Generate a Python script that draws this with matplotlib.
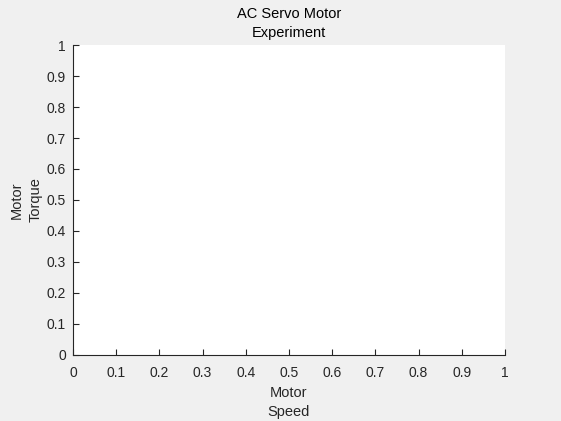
import matplotlib.pyplot as plt

# tick values for the empty axes
xticks = [0, 0.1, 0.2, 0.3, 0.4, 0.5, 0.6, 0.7, 0.8, 0.9, 1]
yticks = [0, 0.1, 0.2, 0.3, 0.4, 0.5, 0.6, 0.7, 0.8, 0.9, 1]
xtick_labels = ["0", "0.1", "0.2", "0.3", "0.4", "0.5", "0.6", "0.7", "0.8", "0.9", "1"]
ytick_labels = ["0", "0.1", "0.2", "0.3", "0.4", "0.5", "0.6", "0.7", "0.8", "0.9", "1"]

plt.rcParams["font.family"] = ["Liberation Sans", "DejaVu Sans"]
plt.rcParams["font.size"] = 10

fig = plt.figure(figsize=(5.61, 4.21), dpi=100, facecolor="#f0f0f0")
ax = fig.add_axes([0.130, 0.157, 0.770, 0.736])
ax.set_facecolor("white")

ax.set_xlim(0, 1)
ax.set_ylim(0, 1)
ax.set_xticks(xticks)
ax.set_xticklabels(xtick_labels)
ax.set_yticks(yticks)
ax.set_yticklabels(ytick_labels)

for side in ["top", "right"]:
    ax.spines[side].set_visible(False)
for side in ["left", "bottom"]:
    ax.spines[side].set_color("#262626")
    ax.spines[side].set_linewidth(0.8)

ax.tick_params(direction="in", length=4, width=0.8, colors="#262626",
               labelcolor="#262626", labelsize=10)
ax.tick_params(axis="x", pad=8)
ax.tick_params(axis="y", pad=5)

ax.set_title("AC Servo Motor\nExperiment", fontsize=10.5, color="black",
             linespacing=1.45, pad=6)
ax.set_xlabel("Motor\nSpeed", fontsize=10.5, color="#262626", linespacing=1.45,
              labelpad=4)
ax.set_ylabel("Motor\nTorque", fontsize=10.5, color="#262626", linespacing=1.45,
              labelpad=3)

fig.savefig("out.png", dpi=100, facecolor=fig.get_facecolor())
